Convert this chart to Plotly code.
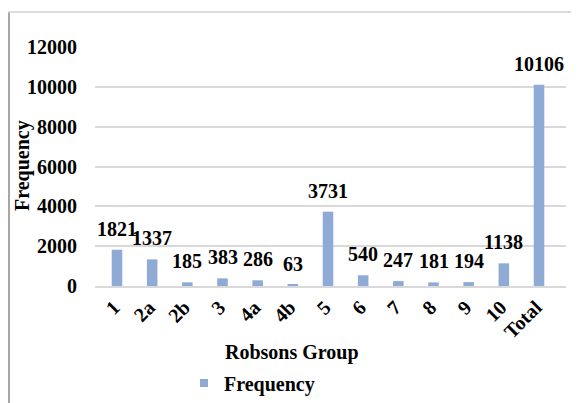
import plotly.graph_objects as go

categories = ["1", "2a", "2b", "3", "4a", "4b", "5", "6", "7", "8", "9", "10", "Total"]
frequency = [1821, 1337, 185, 383, 286, 63, 3731, 540, 247, 181, 194, 1138, 10106]
y_ticks = [0, 2000, 4000, 6000, 8000, 10000, 12000]

FONT = "Liberation Serif, Times New Roman, serif"
BAR = "#8faad4"

fig = go.Figure()
fig.add_trace(go.Bar(
    x=categories, y=frequency, name="Frequency", showlegend=False,
    marker=dict(color=BAR, line=dict(width=0)),
    width=0.3,
))
# legend entry with a small square swatch, as in the original
fig.add_trace(go.Scatter(
    x=[None], y=[None], mode="markers", name="Frequency",
    marker=dict(symbol="square", size=8, color=BAR),
))

for i, v in enumerate(frequency):
    fig.add_annotation(x=i, y=v, text=str(v), showarrow=False,
                       yanchor="bottom", yshift=8,
                       font=dict(family=FONT, size=20, color="black", weight="bold"))

# page body adds an 8px offset; figure coordinates = screen - 8
OFF = 8
W, H = 571, 395
L, T = 95 - OFF, 47 - OFF
R = W - (566 - OFF)
B = H - (286 - OFF)
pw, ph = W - L - R, H - T - B

def px(x):
    return (x - OFF - L) / pw

def py(y):
    return (H - B - (y - OFF)) / ph

fig.add_annotation(xref="paper", yref="paper", x=px(292), y=py(352),
                   text="Robsons Group", showarrow=False,
                   xanchor="center", yanchor="middle",
                   font=dict(family=FONT, size=20, color="black", weight="bold"))
fig.add_annotation(xref="paper", yref="paper", x=px(22), y=py(166),
                   text="Frequency", showarrow=False, textangle=-90,
                   xanchor="center", yanchor="middle",
                   font=dict(family=FONT, size=20, color="black", weight="bold"))

fig.add_shape(type="line", xref="paper", yref="paper",
              x0=px(9), x1=px(9), y0=py(12), y1=py(410),
              line=dict(color="#a6a6a6", width=2))
fig.add_shape(type="line", xref="paper", yref="paper",
              x0=px(8), x1=px(577), y0=py(12), y1=py(12),
              line=dict(color="#d0d0d0", width=1.5))

fig.update_layout(
    width=W, height=H,
    margin=dict(l=L, r=R, t=T, b=B, autoexpand=False),
    paper_bgcolor="white", plot_bgcolor="white",
    font=dict(family=FONT, size=20, color="black", weight="bold"),
    showlegend=True,
    legend=dict(orientation="h", x=px(184), y=py(383), xanchor="left", yanchor="middle",
                font=dict(family=FONT, size=20, color="black", weight="bold"),
                bgcolor="rgba(0,0,0,0)"),
    bargap=0.7,
)
fig.update_xaxes(tickangle=-45, showgrid=False, showline=True, linecolor="#d9d9d9",
                 linewidth=1.5, ticks="", ticklabelshift=-3, automargin=False,
                 tickfont=dict(family=FONT, size=20, weight="bold"))
fig.update_yaxes(range=[0, 12000], tickvals=y_ticks, ticktext=[str(t) for t in y_ticks],
                 showgrid=True, gridcolor="#d9d9d9", automargin=False,
                 gridwidth=1.5, zeroline=False, showline=False, ticks="",
                 ticklabelstandoff=17,
                 tickfont=dict(family=FONT, size=20, weight="bold"))

fig.write_html("out.html")
